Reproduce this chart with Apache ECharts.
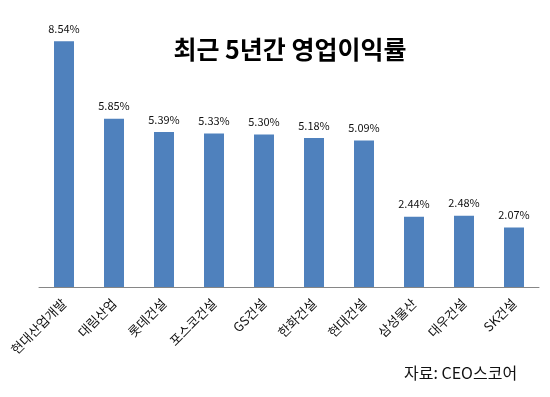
<!DOCTYPE html>
<html>
<head>
<meta charset="utf-8">
<script src="https://cdn.jsdelivr.net/npm/echarts@6/dist/echarts.min.js"></script>
<style>
  html, body { margin: 0; padding: 0; background: #fff; }
  #chart { width: 550px; height: 397px; }
</style>
</head>
<body>
<div id="chart"></div>
<script>
(function () {
  'use strict';
  var companies = ['현대산업개발', '대림산업', '롯데건설', '포스코건설', 'GS건설',
    '한화건설', '현대건설', '삼성물산', '대우건설', 'SK건설'];
  var margins = [8.54, 5.85, 5.39, 5.33, 5.30, 5.18, 5.09, 2.44, 2.48, 2.07];

  var font = '"Noto Sans CJK KR", "Noto Sans", sans-serif';
  var myChart = echarts.init(document.getElementById('chart'));

  var option = {
    animation: false,
    title: {
      text: '최근 5년간 영업이익률',
      left: 285,
      top: 32,
      textAlign: 'center',
      textStyle: { fontFamily: font, fontSize: 25, fontWeight: 'bold', color: '#000' }
    },
    grid: { left: 39, right: 11, top: 28, bottom: 110 },
    xAxis: {
      type: 'category',
      data: companies,
      axisLine: { lineStyle: { color: '#868686', width: 1 } },
      axisTick: { show: false },
      axisLabel: {
        rotate: 45,
        interval: 0,
        margin: 14,
        fontFamily: font,
        fontSize: 13,
        color: '#111'
      }
    },
    yAxis: {
      type: 'value',
      min: 0,
      max: 9,
      show: false,
      splitLine: { show: false }
    },
    series: [{
      type: 'bar',
      data: margins,
      barWidth: 20,
      itemStyle: { color: '#4F81BD' },
      label: {
        show: true,
        position: 'top',
        distance: 7,
        formatter: function (p) { return p.value.toFixed(2) + '%'; },
        fontFamily: font,
        fontSize: 11,
        color: '#111'
      }
    }],
    graphic: [{
      type: 'text',
      left: 404,
      top: 365,
      style: { text: '자료: CEO스코어', font: '16px ' + font, fill: '#111' }
    }]
  };

  myChart.setOption(option);
  window.addEventListener('resize', function () {
    myChart.resize();
  });
})();
</script>
</body>
</html>
